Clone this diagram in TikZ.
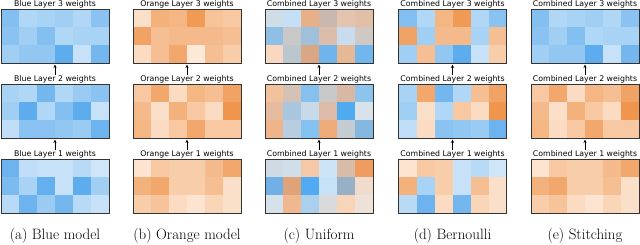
\documentclass[tikz,border=0pt]{standalone}
\usepackage{fontspec}
\newfontfamily\dejavu{DejaVu Sans}
\usetikzlibrary{arrows.meta}

\definecolor{bd}{HTML}{46A0EB}
\definecolor{bl}{HTML}{DEEEFA}
\definecolor{od}{HTML}{ED8C3E}
\definecolor{ol}{HTML}{FDE9D8}

\def\blueC{bd!60!bl,bd!30!bl,bd!35!bl,bd!40!bl,bd!30!bl,bd!55!bl,
  bd!55!bl,bd!40!bl,bd!60!bl,bd!30!bl,bd!35!bl,bd!35!bl,
  bd!40!bl,bd!50!bl,bd!50!bl,bd!85!bl,bd!15!bl,bd!70!bl}
\def\blueB{bd!35!bl,bd!30!bl,bd!70!bl,bd!30!bl,bd!45!bl,bd!55!bl,
  bd!40!bl,bd!85!bl,bd!30!bl,bd!60!bl,bd!85!bl,bd!15!bl,
  bd!20!bl,bd!55!bl,bd!55!bl,bd!50!bl,bd!45!bl,bd!75!bl}
\def\blueA{bd!75!bl,bd!20!bl,bd!15!bl,bd!15!bl,bd!25!bl,bd!10!bl,
  bd!65!bl,bd!35!bl,bd!80!bl,bd!15!bl,bd!85!bl,bd!40!bl,
  bd!25!bl,bd!75!bl,bd!45!bl,bd!70!bl,bd!25!bl,bd!15!bl}
\def\orangeC{od!10!ol,od!60!ol,od!55!ol,od!85!ol,od!40!ol,od!35!ol,
  od!75!ol,od!45!ol,od!50!ol,od!50!ol,od!50!ol,od!45!ol,
  od!15!ol,od!45!ol,od!70!ol,od!0!ol,od!45!ol,od!30!ol}
\def\orangeB{od!35!ol,od!70!ol,od!15!ol,od!55!ol,od!45!ol,od!75!ol,
  od!50!ol,od!10!ol,od!60!ol,od!35!ol,od!15!ol,od!90!ol,
  od!55!ol,od!15!ol,od!35!ol,od!70!ol,od!35!ol,od!35!ol}
\def\orangeA{od!5!ol,od!35!ol,od!30!ol,od!30!ol,od!50!ol,od!70!ol,
  od!60!ol,od!70!ol,od!30!ol,od!30!ol,od!45!ol,od!10!ol,
  od!30!ol,od!40!ol,od!15!ol,od!5!ol,od!20!ol,od!10!ol}
\def\bernC{bd!60!bl,bd!30!bl,od!55!ol,od!85!ol,bd!30!bl,bd!55!bl,
  od!75!ol,bd!40!bl,od!50!ol,od!50!ol,bd!35!bl,od!45!ol,
  bd!40!bl,od!45!ol,bd!50!bl,bd!85!bl,bd!15!bl,od!30!ol}
\def\bernB{bd!35!bl,od!70!ol,bd!70!bl,bd!30!bl,od!45!ol,od!75!ol,
  bd!40!bl,od!10!ol,bd!30!bl,od!35!ol,od!15!ol,od!90!ol,
  bd!20!bl,od!15!ol,bd!55!bl,bd!50!bl,bd!45!bl,bd!75!bl}
\def\bernA{od!5!ol,od!35!ol,od!30!ol,bd!15!bl,bd!25!bl,bd!10!bl,
  od!60!ol,bd!35!bl,od!30!ol,bd!15!bl,od!45!ol,od!10!ol,
  bd!25!bl,bd!75!bl,od!15!ol,bd!70!bl,od!20!ol,od!10!ol}
\def\unifC{CFDDE6,C5E0F5,E8B088,C9B8AE,E3C4B0,E2C0A8,
  8FBFE4,C8C8C8,9FC0DA,DCBCAA,C8DCED,CFC8C3,
  F8D8C0,BCC6CF,D9A686,70B4EC,E6B896,72B6EE}
\def\unifB{F2C29C,D4C2B6,86C0EF,C8C8C8,D8B8A2,8CC4EE,
  E6BCA0,A8C6E0,C8DAE8,DCBCA8,50AAF0,D8E2EA,
  EEB48A,B8CDE0,84C2F2,EEAA78,C4CCD2,84B8E0}
\def\unifA{D0DAE2,CFDEEA,F5C8A8,CCE4F5,D8BCA8,F09C60,
  70B0E6,E0A278,52AAF2,C6E2F6,98B0C6,F0DCCC,
  D6E2EA,F0B890,AAD0EE,D8DADC,F8D4B8,EEE2D8}

% name, left, top, list of colour expressions
\newcommand{\heatmap}[4]{
  \foreach \c [count=\k from 0] in #4 {
    \pgfmathsetmacro\cx{#2+18*mod(\k,6)}
    \pgfmathsetmacro\cy{#3+18*floor(\k/6)}
    \fill[fill=\c] (\cx,\cy) rectangle ++(18,18);
  }
  \node[heat] (#1) at (#2,#3) {};
}
% same, with html colours
\newcommand{\heathex}[4]{
  \foreach \c [count=\k from 0] in #4 {
    \pgfmathsetmacro\cx{#2+18*mod(\k,6)}
    \pgfmathsetmacro\cy{#3+18*floor(\k/6)}
    \edef\tmp{\noexpand\definecolor{cc}{HTML}{\c}}\tmp
    \fill[cc] (\cx,\cy) rectangle ++(18,18);
  }
  \node[heat] (#1) at (#2,#3) {};
}

\begin{document}
\begin{tikzpicture}[x=1pt, y=-1pt,
    heat/.style={draw=black!80, line width=0.8pt, anchor=north west, inner sep=0, outer sep=0,
      minimum width=108pt, minimum height=54pt},
    ttl/.style={font=\dejavu\fontsize{7.8}{9}\selectfont, anchor=base, inner sep=0},
    subcap/.style={font=\fontsize{15}{18}\selectfont, anchor=base, inner sep=0},
    arr/.style={-{Stealth[length=3.5pt, width=3pt]}, line width=0.6pt, shorten >=1.5pt}]
    \useasboundingbox (0,0) rectangle (640,244);

    \heatmap{a3}{1}{9}{\blueC}
    \heatmap{a2}{1}{84}{\blueB}
    \heatmap{a1}{1}{159}{\blueA}
    \heatmap{b3}{133}{9}{\orangeC}
    \heatmap{b2}{133}{84}{\orangeB}
    \heatmap{b1}{133}{159}{\orangeA}
    \heathex{c3}{265}{9}{\unifC}
    \heathex{c2}{265}{84}{\unifB}
    \heathex{c1}{265}{159}{\unifA}
    \heatmap{d3}{398.5}{9}{\bernC}
    \heatmap{d2}{398.5}{84}{\bernB}
    \heatmap{d1}{398.5}{159}{\bernA}
    \heatmap{e3}{531}{9}{\blueC}
    \heatmap{e2}{531}{84}{\orangeB}
    \heatmap{e1}{531}{159}{\orangeA}

    \foreach \n/\x/\w in {a/55/Blue, b/187/Orange, c/319/Combined, d/452.5/Combined, e/585/Combined} {
        \node[ttl] (\n-t3) at (\x,6) {\w{} Layer 3 weights};
        \node[ttl] (\n-t2) at (\x,81) {\w{} Layer 2 weights};
        \node[ttl] (\n-t1) at (\x,156) {\w{} Layer 1 weights};
        \draw[arr] (\n-t2.north) -- (\n3.south);
        \draw[arr] (\n-t1.north) -- (\n2.south);
    }

    \node[subcap] (capa) at (55,239) {(a) Blue model};
    \node[subcap] (capb) at (187,239) {(b) Orange model};
    \node[subcap] (capc) at (319,239) {(c) Uniform};
    \node[subcap] (capd) at (452.5,239) {(d) Bernoulli};
    \node[subcap] (cape) at (585,239) {(e) Stitching};
\end{tikzpicture}
\end{document}
